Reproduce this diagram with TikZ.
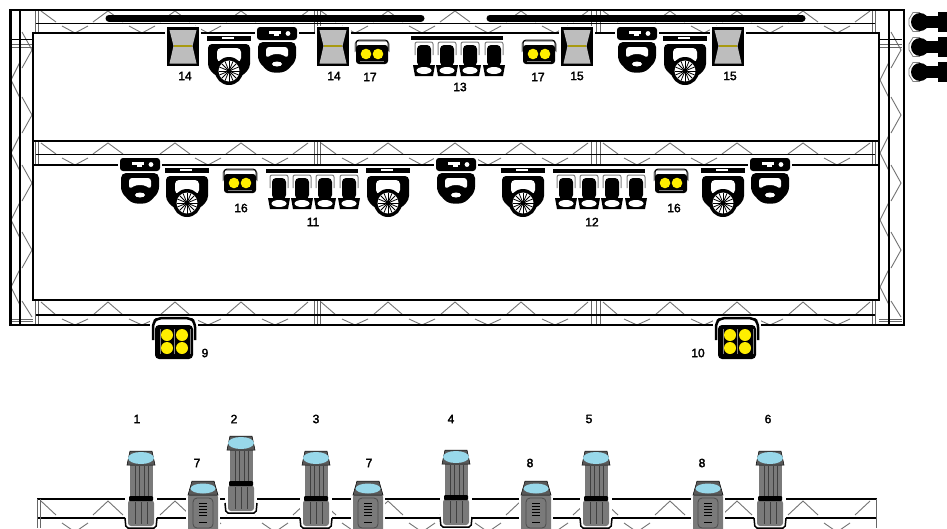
\documentclass[tikz,border=0pt]{standalone}
\usepackage{fontspec}
\newfontfamily\numfont[FakeBold=2.5]{Liberation Sans}
\definecolor{lensblue}{HTML}{98D8EA}
\definecolor{lampyellow}{HTML}{FFEE00}
\definecolor{bodygray}{HTML}{7A7A7A}
\definecolor{scangray}{HTML}{BDBDBD}
\definecolor{scanband}{HTML}{A89A10}
\newcommand{\trusszig}[4]{%
  \foreach \s in {41,321,603}{
    \draw[zigline] (\s,#1) -- (\s+15,#2);
    \draw[zigline] (\s+267-15,#2) -- (\s+267,#1);
    \foreach \d in {67,134,200}{
      \draw[zigline] (\s+\d-15,#2) -- (\s+\d,#1) -- (\s+\d+15,#2);
    }
    \foreach \d in {34,101,167,234}{
      \draw[zigline] (\s+\d-13,#3) -- (\s+\d,#4) -- (\s+\d+13,#3);
    }
  }
}
\newcommand{\sidezig}{%
  \foreach \p in {80,153,220,287}{
    \draw[zigline] (20,\p-18) -- (11,\p) -- (20,\p+18);
  }
  \foreach \p in {50,115,183,250}{
    \draw[zigline] (22,\p-18) -- (32,\p) -- (22,\p+18);
  }
  \draw[zigline] (22,301) -- (32,317);
}
\tikzset{
  frameline/.style={line width=2.7pt,black},
  zigline/.style={line width=0.9pt,black!55},
  jointline/.style={line width=1pt,black!60},
  numlabel/.style={font=\numfont\fontsize{12}{12}\selectfont,inner sep=0pt},
  pics/scanbox/.style={code={
    \fill[white] (-18,-21) rectangle (18,21);
    \fill[black] (-16,-20) rectangle (16,19);
    \fill[scangray] (-13.5,-17) -- (13.5,-17) -- (9.5,-1) -- (13.5,16.5) -- (-13.5,16.5) -- (-9.5,-1) -- cycle;
    \draw[scanband,line width=1.5pt] (-9,-1) -- (9,-1);
  }},
  pics/spothead/.style={code={
    \fill[white] (-24,-4) rectangle (24,46);
    \fill[black] (-22,-2.5) rectangle (22,2.5);
    \fill[white] (-7,-1) rectangle (5,1);
    \fill[black,rounded corners=4pt] (-21,6) -- (21,6) -- (21,30) -- (12,39) -- (-12,39) -- (-21,30) -- cycle;
    \fill[white,rounded corners=4pt] (-12,10) rectangle (12,24);
    \fill[black] (0,33) circle (14);
    \fill[white] (0,33) circle (10.5);
    \foreach \a in {0,22.5,...,337.5}{
      \draw[black,line width=0.8pt] (0,33) -- ++(\a:10.5);
    }
    \fill[black] (0,33) circle (2.5);
  }},
  pics/washhead/.style={code={
    \fill[white] (-22,-8) rectangle (22,41);
    \fill[black,rounded corners=3pt] (-20,-6) rectangle (20,7);
    \fill[white] (-8,-2) rectangle (4,1);
    \fill[white] (-3,1) rectangle (2,3);
    \fill[white] (11,0.5) circle (2.4);
    \fill[black,rounded corners=5pt] (-19,9) -- (19,9) -- (19,28) -- (8,39.5) -- (-8,39.5) -- (-19,28) -- cycle;
    \fill[white,rounded corners=3pt] (-11,14) -- (11,14) -- (11,25) -- (4,21) -- (-4,21) -- (-11,25) -- cycle;
    \fill[white] (0,31) ellipse (5 and 2.5);
  }},
  pics/parduo/.style={code={
    \fill[white] (-19,-16) rectangle (19,12);
    \draw[gray,line width=1pt,rounded corners=3pt] (-17,-2) -- (-17,-13) -- (17,-13) -- (17,-2);
    \draw[black,line width=1pt,rounded corners=3pt] (-16,-3) -- (-16,-14) -- (16,-14) -- (16,-3);
    \fill[black,rounded corners=3pt] (-16,-9) rectangle (16,10);
    \fill[gray] (-12,6.5) rectangle (12,7.5);
    \fill[lampyellow] (-6,0) circle (5.3);
    \fill[lampyellow] (6,0) circle (5.3);
  }},
  pics/parquad/.style={code={
    \fill[white] (-24,-24.5) rectangle (24,20);
    \draw[black,line width=2.5pt,rounded corners=5pt] (-21,-1) -- (-21,-19) -- (-16,-23) -- (16,-23) -- (21,-19) -- (21,-1);
    \fill[black,rounded corners=4pt] (-19,-16) rectangle (19,18);
    \draw[gray,line width=1pt] (-14,-12) -- (-14,13) (0,-12) -- (0,13) (16,-12) -- (16,13);
    \foreach \x in {-7,8}{
      \foreach \y in {-6,7}{
        \fill[lampyellow] (\x,\y) circle (6);
      }
    }
  }},
  pics/minihead/.style={code={
    \draw[gray,line width=1pt,rounded corners=2pt] (-9,17) -- (-9,4) -- (9,4) -- (9,17);
    \fill[white] (-8,5) rectangle (8,26);
    \fill[black,rounded corners=4pt] (-7,7) rectangle (7,28);
    \fill[black] (-11,27) -- (11,27) -- (9,38) -- (-9,38) -- cycle;
    \fill[white] (0,32.5) ellipse (7.5 and 3.5);
  }},
  pics/parbar/.style={code={
    \fill[white] (-48,-4) rectangle (48,40);
    \fill[black] (-46,-2) rectangle (46,2);
    \foreach \x in {-33,-10,13,37}{
      \pic at (\x,0) {minihead};
    }
  }},
  pics/sidehead/.style={code={
    \draw[gray,line width=0.8pt] (0,-9.5) -- (-7,-9.5) -- (-11,-3) -- (-11,3) -- (-7,9.5) -- (0,9.5);
    \fill[black] (0,0) circle (9);
    \fill[black] (0,-6) rectangle (18,6);
    \fill[black] (18,-10) rectangle (30,10);
  }},
  pics/tallbeam/.style={code={
    \fill[white] (-16,36) rectangle (16,72);
    \draw[black,line width=1.5pt,rounded corners=2pt] (-16,60) -- (-15,70) -- (15,70) -- (16,60);
    \fill[bodygray] (-11.5,7) rectangle (11.5,40);
    \foreach \x in {-6,-2,3,7}{
      \draw[black!75,line width=0.6pt] (\x,8) -- (\x,39);
    }
    \fill[bodygray,rounded corners=3pt] (-13,42) rectangle (13,68);
    \foreach \x in {-6,0,6}{
      \draw[black!75,line width=0.6pt] (\x,44) -- (\x,66);
    }
    \fill[black,rounded corners=1pt] (-12,38) rectangle (12,43);
    \fill[black!65,draw=black,line width=0.5pt] (-11,-7) -- (11,-7) -- (14,7) -- (-14,7) -- cycle;
    \fill[lensblue] (0,0) ellipse (13 and 6);
  }},
  pics/shortbeam/.style={code={
    \fill[white] (-17,5) rectangle (17,45);
    \fill[bodygray,rounded corners=4pt] (-15,5) rectangle (15,46);
    \draw[black!70,line width=0.8pt,rounded corners=4pt] (-10,10) rectangle (10,40);
    \foreach \y in {15,18,21,24,27,34}{
      \draw[black,line width=0.9pt] (-4,\y) -- (4,\y);
    }
    \fill[black!65,draw=black,line width=0.5pt] (-11,-7) -- (11,-7) -- (15,7) -- (-15,7) -- cycle;
    \fill[lensblue] (0,0.5) ellipse (12.5 and 5);
  }}
}
\begin{document}
\begin{tikzpicture}[x=1pt,y=-1pt]
  \clip (0,0) rectangle (947,528);
  \fill[white] (0,0) rectangle (947,528);

  % zigzag bracing
  \trusszig{11}{22}{26}{33}
  \trusszig{143}{154}{158}{165}
  \trusszig{302}{315}{319}{325}
  \trusszig{501}{515}{523}{532}
  \sidezig
  \begin{scope}[xshift=869pt]
    \sidezig
  \end{scope}

  % section joints
  \foreach \y/\h in {9/33,141/165,300/325}{
    \foreach \x in {35,38,314,317,320,591,596,600,872,875}{
      \draw[jointline] (\x,\y) -- (\x,\h);
    }
  }
  \foreach \x in {0,869}{
    \draw[jointline] (10+\x,44) -- (33+\x,44);
    \draw[jointline] (10+\x,47) -- (33+\x,47);
    \draw[black,line width=1pt] (10+\x,39) -- (33+\x,39);
    \draw[jointline] (10+\x,319) -- (33+\x,319);
    \draw[jointline] (10+\x,321) -- (33+\x,321);
  }

  % frame
  \draw[frameline] (10.5,10) rectangle (904,325);
  \draw[frameline] (33,33) rectangle (879,300);
  \draw[frameline] (33,141) -- (879,141);
  \draw[frameline] (33,165) -- (879,165);
  \draw[black,line width=1.5pt] (20,9) -- (20,325);
  \draw[black,line width=1.5pt] (889,9) -- (889,325);
  \foreach \y in {23.5,154.5,315}{
    \draw[black,line width=1.5pt] (36,\y) -- (875,\y);
  }

  % lower truss
  \draw[frameline] (37,499) -- (877,499);
  \draw[frameline] (37,518) -- (877,518);
  \draw[jointline] (37,499) -- (37,528);
  \draw[jointline] (40,499) -- (40,528);
  \draw[jointline] (876,499) -- (876,528);

  % hanging bars
  \draw[black,line width=7pt,line cap=round] (109,18) -- (421,18);
  \draw[black,line width=7pt,line cap=round] (490,18) -- (802,18);

  % upper row
  \pic at (183,47) {scanbox};
  \pic at (229,38) {spothead};
  \pic at (277,33) {washhead};
  \pic at (333,47) {scanbox};
  \pic at (372,54) {parduo};
  \pic at (457,38) {parbar};
  \pic at (539,54) {parduo};
  \pic at (577,47) {scanbox};
  \pic at (637,33) {washhead};
  \pic at (685,38) {spothead};
  \pic at (728,47) {scanbox};

  % middle row
  \pic at (140,164) {washhead};
  \pic at (187,170) {spothead};
  \pic at (240,183) {parduo};
  \pic at (312,171) {parbar};
  \pic at (388,170) {spothead};
  \pic at (456,164) {washhead};
  \pic at (523,170) {spothead};
  \pic at (599,171) {parbar};
  \pic at (671,183) {parduo};
  \pic at (723,170) {spothead};
  \pic at (770,164) {washhead};

  % front pars and side units
  \pic at (174,341) {parquad};
  \pic at (737,341) {parquad};
  \foreach \y in {22,47,72}{
    \pic at (920,\y) {sidehead};
  }

  % floor units
  \foreach \x/\y in {141/458,241/443,316/458,456/457,596/458,770/458}{
    \pic at (\x,\y) {tallbeam};
  }
  \foreach \x in {203,368,536,708}{
    \pic at (\x,488) {shortbeam};
  }

  % numbers
  \foreach \x/\y/\t [count=\i] in {185/76/14,334/76/14,370/77/17,460/87/13,538/77/17,577/76/15,730/76/15,
      241/208/16,313/222/11,592/222/12,674/208/16,205/353/9,698/353/10,
      137/419/1,234/419/2,316/419/3,451/419/4,589/419/5,768/419/6,
      197/463/7,369/463/7,530/463/8,702/463/8}{
    \node[numlabel] (lbl\i) at (\x,\y) {\t};
  }
\end{tikzpicture}
\end{document}
